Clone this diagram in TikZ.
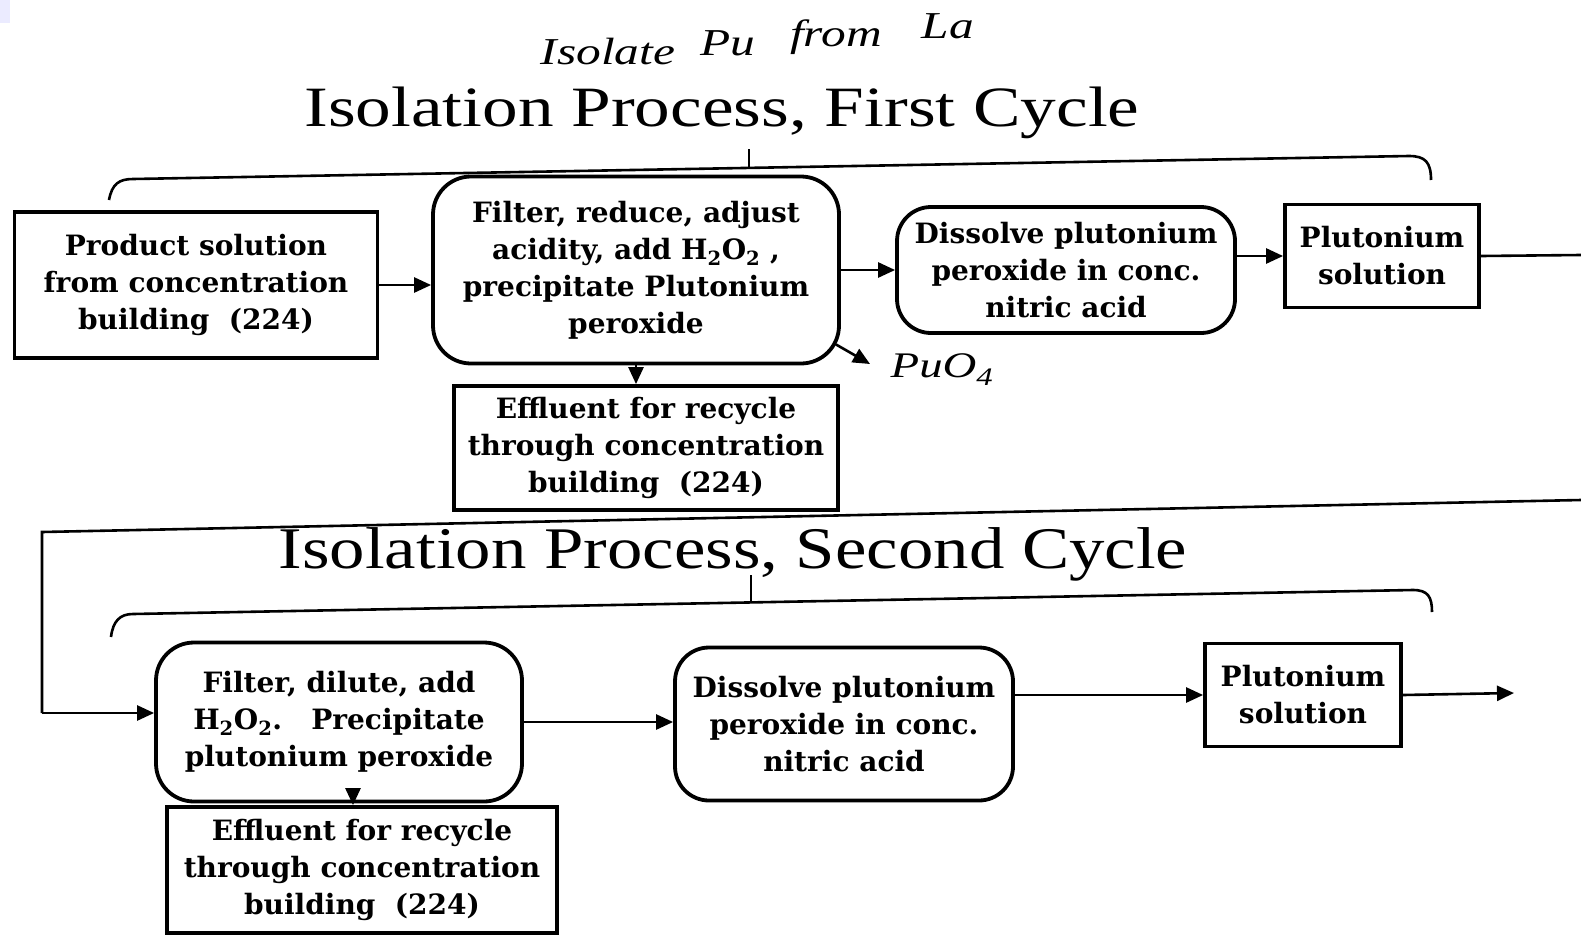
\documentclass[tikz,border=0pt]{standalone}
\usepackage{fontspec}
\setmainfont{DejaVu Serif}
\newfontfamily\titlefonta[FakeStretch=1.25]{Liberation Serif}
\newfontfamily\titlefontb[FakeStretch=1.2]{Liberation Serif}
\newfontfamily\handfont[FakeStretch=1.3]{Liberation Serif}
\usetikzlibrary{arrows.meta,calc}
\newcommand\boxfont{\fontsize{28}{37}\selectfont\bfseries}
\newcommand\handsize{\fontsize{38}{38}\selectfont\handfont\itshape}
\tikzset{
  box/.style={draw, line width=3.8pt, inner sep=0pt, align=center, font=\boxfont},
  rbox/.style={box, rounded corners=38pt},
  conn/.style={line width=2.6pt},
  arr/.style={conn, -{Triangle[length=17pt,width=15pt]}},
  ttl/.style={anchor=base, inner sep=0pt},
  hand/.style={inner sep=0pt, anchor=base, font=\handsize}
}
\begin{document}
\begin{tikzpicture}[x=1pt,y=-1pt]
\useasboundingbox (0,0) rectangle (1581,937);
\fill[white] (0,0) rectangle (1581,937);
\fill[blue!8] (0,0) rectangle (10,23);

% handwritten note
\node[hand] (n1) at (608,64) {Isolate};
\node[hand] (n2) at (728,55) {Pu};
\node[hand] (n3) at (836,46) {from};
\node[hand] (n4) at (948,38) {La};

% titles
\node[ttl, font=\fontsize{57}{60}\selectfont\titlefonta] (t1) at (722,126) {Isolation Process, First Cycle};
\node[ttl, font=\fontsize{59}{62}\selectfont\titlefontb] (t2) at (733,568) {Isolation Process, Second Cycle};

% brackets
\draw[conn] (109,200) .. controls (112,184) and (119,179) .. (133,179) -- (1409,156) .. controls (1425,156) and (1431,162) .. (1431,180);
\draw[conn] (749,149) -- (749,168);
\draw[conn] (111,637) .. controls (113,621) and (120,614) .. (133,614) -- (1413,590) .. controls (1428,590) and (1432,597) .. (1432,612);
\draw[conn] (751,575) -- (751,602);

% first cycle
\node[box, minimum width=363, minimum height=146] (A) at (196,285) {Product solution\\from concentration\\building\ \ (224)};
\node[rbox, minimum width=406, minimum height=187] (B) at (636,270) {Filter, reduce, adjust\\acidity, add H\textsubscript{2}O\textsubscript{2} ,\\precipitate Plutonium\\peroxide};
\node[rbox, rounded corners=34pt, minimum width=338, minimum height=126] (C) at (1066,270) {Dissolve plutonium\\peroxide in conc.\\nitric acid};
\node[box, minimum width=194, minimum height=103] (D) at (1382,256) {Plutonium\\solution};
\node[box, minimum width=384, minimum height=124] (E) at (646,448) {Effluent for recycle\\through concentration\\building\ \ (224)};
\node[hand, anchor=center, font=\fontsize{36}{36}\selectfont\handfont\itshape] (pu) at (942,370) {PuO\textsubscript{4}};

\draw[arr] (A.east) -- (A.east -| B.west);
\draw[arr] (B.east) -- (C.west);
\draw[arr] (D.west -| C.east) -- (D.west);
\coordinate (Dout) at (1581,255);
\draw[conn] (D.east) -- (Dout);
\draw[arr] (B.south) -- (B.south |- E.north);
\coordinate (puA) at ($(B.south east)+(-5,-21)$);
\coordinate (puB) at (870,364);
\draw[arr] (puA) -- (puB);

% return line
\coordinate (R0) at (1581,500);
\coordinate (R1) at (42,532);
\coordinate (R2) at (42,713);

% second cycle
\node[rbox, minimum width=366, minimum height=159] (F) at (339,722) {Filter, dilute, add\\H\textsubscript{2}O\textsubscript{2}.\ \ \ Precipitate\\plutonium peroxide};
\node[rbox, rounded corners=34pt, minimum width=338, minimum height=153] (G) at (844,724) {Dissolve plutonium\\peroxide in conc.\\nitric acid};
\node[box, minimum width=196, minimum height=103] (H) at (1303,695) {Plutonium\\solution};
\node[box, minimum width=390, minimum height=126] (I) at (362,870) {Effluent for recycle\\through concentration\\building\ \ (224)};
\coordinate (Hout) at (1514,693);

\draw[conn] (R0) -- (R1) -- (R2);
\draw[arr] (R2) -- (R2 -| F.west);
\draw[arr] (F.east) -- (F.east -| G.west);
\draw[arr] (H.west -| G.east) -- (H.west);
\draw[arr] (H.east) -- (Hout);
\coordinate (Fs) at ($(F.south)+(14,0)$);
\draw[arr] (Fs) -- (Fs |- I.north);
\end{tikzpicture}
\end{document}
